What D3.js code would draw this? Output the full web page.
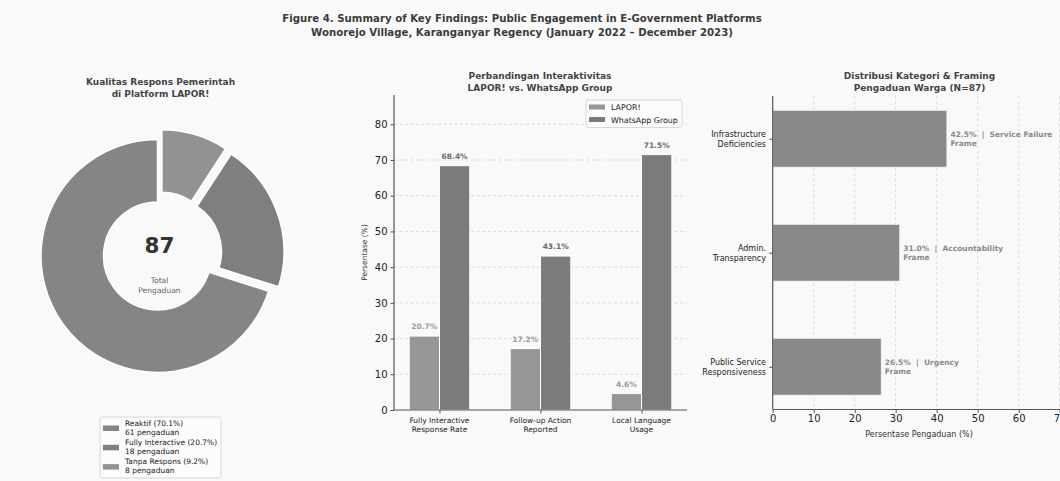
<!DOCTYPE html>
<html>
<head>
<meta charset="utf-8">
<script src="https://cdn.jsdelivr.net/npm/d3@7/dist/d3.min.js"></script>
<style>
  body { margin: 0; background: #f9f9f9; }
  svg { display: block; font-family: "DejaVu Sans", sans-serif; }
  .pre { white-space: pre; }
</style>
</head>
<body>
<div id="main"></div>
<script>
// --- data ---
var pieLabels = ['Reaktif', 'Fully Interactive', 'Tanpa Respons'];
var pieCounts = [61, 18, 8];
var piePct = [70.1, 20.7, 9.2];
var pieTotal = 87;

var barCats = [['Fully Interactive', 'Response Rate'], ['Follow-up Action', 'Reported'], ['Local Language', 'Usage']];
var barSeries = ['LAPOR!', 'WhatsApp Group'];
var laporVals = [20.7, 17.2, 4.6];
var waVals = [68.4, 43.1, 71.5];
var barTicks = [0, 10, 20, 30, 40, 50, 60, 70, 80];

var frameCats = [['Infrastructure', 'Deficiencies'], ['Admin.', 'Transparency'], ['Public Service', 'Responsiveness']];
var frameVals = [42.5, 31.0, 26.5];
var frameNames = ['Service Failure', 'Accountability', 'Urgency'];
var frameTicks = [0, 10, 20, 30, 40, 50, 60, 70];

var width = 1060, height = 481;
var bg = '#f9f9f9';

var svg = d3.select('#main').append('svg')
    .attr('width', width)
    .attr('height', height);

svg.append('rect').attr('width', width).attr('height', height).attr('fill', bg);

// figure title
svg.append('text')
    .attr('x', 522).attr('y', 22)
    .attr('text-anchor', 'middle')
    .attr('font-size', 10.2).attr('font-weight', 'bold').attr('fill', '#3c3c3c')
  .selectAll('tspan')
  .data(['Figure 4. Summary of Key Findings: Public Engagement in E-Government Platforms',
         'Wonorejo Village, Karanganyar Regency (January 2022 \u2013 December 2023)'])
  .enter().append('tspan')
    .attr('x', 522)
    .attr('dy', function(d, i) { return i ? 14 : 0; })
    .text(function(d) { return d; });

function subtitle(x, y, lines) {
  svg.append('text')
      .attr('text-anchor', 'middle')
      .attr('font-size', 9).attr('font-weight', 'bold').attr('fill', '#444')
    .selectAll('tspan').data(lines).enter().append('tspan')
      .attr('x', x).attr('y', function(d, i) { return y + i * 11.5; })
      .text(function(d) { return d; });
}

// ---------- donut ----------
subtitle(160.5, 85, ['Kualitas Respons Pemerintah', 'di Platform LAPOR!']);

var pieColors = ['#858585', '#7f7f7f', '#929292'];
var explode = [2.5, 8.5, 8.5];
var cx = 159.5, cy = 254.5, R = 116.5, r0 = 54;

var pie = d3.pie().sort(null).startAngle(0).endAngle(-2 * Math.PI);
var arc = d3.arc().innerRadius(r0).outerRadius(R);

var donut = svg.append('g').attr('transform', 'translate(' + cx + ',' + cy + ')');
donut.selectAll('.slice')
  .data(pie(pieCounts))
  .enter().append('path')
    .attr('class', 'slice')
    .attr('d', arc)
    .attr('transform', function(d, i) {
      var a = (d.startAngle + d.endAngle) / 2;
      return 'translate(' + (Math.sin(a) * explode[i]) + ',' + (-Math.cos(a) * explode[i]) + ')';
    })
    .attr('fill', function(d, i) { return pieColors[i]; })
    .attr('stroke', '#ffffff').attr('stroke-width', 1.5);

donut.append('text')
    .attr('y', -2).attr('text-anchor', 'middle')
    .attr('font-size', 21.5).attr('font-weight', 'bold').attr('fill', '#333')
    .text(pieTotal);
donut.append('text')
    .attr('text-anchor', 'middle').attr('font-size', 7.6).attr('fill', '#666')
  .selectAll('tspan').data(['Total', 'Pengaduan']).enter().append('tspan')
    .attr('x', 0).attr('y', function(d, i) { return 28 + i * 10; })
    .text(function(d) { return d; });

// donut legend
var lg = svg.append('g').attr('transform', 'translate(100,417)');
lg.append('rect').attr('width', 121).attr('height', 61).attr('rx', 2)
    .attr('fill', '#fbfbfb').attr('stroke', '#d0d0d0').attr('stroke-width', 0.8);
var lgItem = lg.selectAll('.item').data(pieLabels).enter().append('g')
    .attr('class', 'item')
    .attr('transform', function(d, i) { return 'translate(0,' + (11 + i * 19.3) + ')'; });
lgItem.append('rect').attr('x', 3).attr('y', -2.5).attr('width', 16).attr('height', 5.5)
    .attr('fill', function(d, i) { return pieColors[i]; });
lgItem.append('text')
    .attr('font-size', 7.5).attr('fill', '#222')
  .selectAll('tspan')
  .data(function(d, i) { return [d + ' (' + piePct[i] + '%)', pieCounts[i] + ' pengaduan']; })
  .enter().append('tspan')
    .attr('x', 25).attr('y', function(d, i) { return -2.5 + i * 9; })
    .text(function(d) { return d; });

// ---------- grouped bars ----------
subtitle(540, 79, ['Perbandingan Interaktivitas', 'LAPOR! vs. WhatsApp Group']);

var bx = d3.scaleLinear().domain([-0.45, 2.45]).range([394, 687]);
var by = d3.scaleLinear().domain([0, 88.2]).range([410, 95]);
var bw = 0.3;
var barColors = ['#969696', '#7b7b7b'];
var labelColors = ['#9a9a9a', '#6a6a6a'];

var g2 = svg.append('g');
g2.selectAll('.grid').data(barTicks.slice(1)).enter().append('line')
    .attr('x1', 394).attr('x2', 687)
    .attr('y1', function(d) { return by(d); }).attr('y2', function(d) { return by(d); })
    .attr('stroke', '#cfcfcf').attr('stroke-width', 0.7).attr('stroke-dasharray', '3,2.5');

var seriesVals = [laporVals, waVals];
seriesVals.forEach(function(vals, s) {
  var off = s === 0 ? -bw / 2 : bw / 2;
  g2.selectAll('.bar' + s).data(vals).enter().append('rect')
      .attr('x', function(d, i) { return bx(i + off - bw / 2); })
      .attr('width', bx(bw) - bx(0))
      .attr('y', function(d) { return by(d); })
      .attr('height', function(d) { return by(0) - by(d); })
      .attr('fill', barColors[s])
      .attr('stroke', '#ffffff').attr('stroke-width', 1);
  g2.selectAll('.lbl' + s).data(vals).enter().append('text')
      .attr('x', function(d, i) { return bx(i + off); })
      .attr('y', function(d) { return by(d) - 7; })
      .attr('text-anchor', 'middle')
      .attr('font-size', 7.5).attr('font-weight', 'bold').attr('fill', labelColors[s])
      .text(function(d) { return d.toFixed(1) + '%'; });
});

g2.append('g')
    .attr('transform', 'translate(394,0)')
    .call(d3.axisLeft(by).tickValues(barTicks).tickSize(3.5).tickPadding(3))
    .call(function(a) {
      a.select('.domain').attr('stroke', '#555').attr('stroke-width', 1.2).attr('d', 'M0,95V410');
      a.selectAll('.tick line').attr('stroke', '#555');
      a.selectAll('text').attr('font-size', 10).attr('fill', '#222').attr('font-family', 'DejaVu Sans');
    });
g2.append('g')
    .attr('transform', 'translate(0,410)')
    .call(d3.axisBottom(bx).tickValues([0, 1, 2]).tickSize(3.5).tickFormat(''))
    .call(function(a) {
      a.select('.domain').attr('stroke', '#555').attr('stroke-width', 1.2).attr('d', 'M394,0H687');
      a.selectAll('.tick line').attr('stroke', '#555');
    });
g2.selectAll('.xlab').data(barCats).enter().append('text')
    .attr('text-anchor', 'middle').attr('font-size', 7.5).attr('fill', '#222')
  .each(function(d, i) {
    d3.select(this).selectAll('tspan').data(d).enter().append('tspan')
      .attr('x', bx(i)).attr('y', function(t, j) { return 423 + j * 9; })
      .text(function(t) { return t; });
  });
g2.append('text')
    .attr('transform', 'translate(367,252.5) rotate(-90)')
    .attr('text-anchor', 'middle').attr('font-size', 7.5).attr('fill', '#333')
    .text('Persentase (%)');

// bar legend
var bl = g2.append('g').attr('transform', 'translate(586,100)');
bl.append('rect').attr('width', 96).attr('height', 27.5).attr('rx', 2)
    .attr('fill', '#fbfbfb').attr('stroke', '#d0d0d0').attr('stroke-width', 0.8);
var blItem = bl.selectAll('.item').data(barSeries).enter().append('g')
    .attr('transform', function(d, i) { return 'translate(0,' + (7 + i * 12.5) + ')'; });
blItem.append('rect').attr('x', 3).attr('y', -2.5).attr('width', 16).attr('height', 5)
    .attr('fill', function(d, i) { return barColors[i]; });
blItem.append('text').attr('x', 25).attr('y', 3)
    .attr('font-size', 7.9).attr('fill', '#222')
    .text(function(d) { return d; });

// ---------- horizontal bars ----------
subtitle(919.5, 79, ['Distribusi Kategori & Framing', 'Pengaduan Warga (N=87)']);

var hx = d3.scaleLinear().domain([0, 71.3]).range([772.7, 1065]);
var hy = d3.scaleLinear().domain([-0.375, 2.375]).range([96, 409.5]);
var bh = 0.5;

var g3 = svg.append('g');
g3.selectAll('.grid').data(frameTicks.slice(1)).enter().append('line')
    .attr('y1', 96).attr('y2', 409.5)
    .attr('x1', function(d) { return hx(d); }).attr('x2', function(d) { return hx(d); })
    .attr('stroke', '#cfcfcf').attr('stroke-width', 0.7).attr('stroke-dasharray', '3,2.5');

g3.selectAll('.hbar').data(frameVals).enter().append('rect')
    .attr('x', hx(0))
    .attr('y', function(d, i) { return hy(i - bh / 2); })
    .attr('width', function(d) { return hx(d) - hx(0); })
    .attr('height', hy(bh) - hy(0))
    .attr('fill', '#888888')
    .attr('stroke', '#f2f2f2').attr('stroke-width', 1);

g3.selectAll('.hlab').data(frameVals).enter().append('text')
    .attr('class', 'pre')
    .attr('font-size', 7.5).attr('font-weight', 'bold').attr('fill', '#8a8a8a')
  .each(function(d, i) {
    d3.select(this).selectAll('tspan')
      .data([d.toFixed(1) + '%  |  ' + frameNames[i], 'Frame']).enter().append('tspan')
      .attr('x', hx(d) + 3.5)
      .attr('y', function(t, j) { return hy(i) - 1.5 + j * 9; })
      .text(function(t) { return t; });
  });

g3.append('g')
    .attr('transform', 'translate(772.7,0)')
    .call(d3.axisLeft(hy).tickValues([0, 1, 2]).tickSize(3.5).tickFormat(''))
    .call(function(a) {
      a.select('.domain').attr('stroke', '#555').attr('stroke-width', 1.2).attr('d', 'M0,96V409.5');
      a.selectAll('.tick line').attr('stroke', '#555');
    });
g3.selectAll('.ylab').data(frameCats).enter().append('text')
    .attr('text-anchor', 'end').attr('font-size', 8).attr('fill', '#222')
  .each(function(d, i) {
    d3.select(this).selectAll('tspan').data(d).enter().append('tspan')
      .attr('x', 766).attr('y', function(t, j) { return hy(i) - 1.5 + j * 10; })
      .text(function(t) { return t; });
  });
g3.append('g')
    .attr('transform', 'translate(0,409.5)')
    .call(d3.axisBottom(hx).tickValues(frameTicks).tickSize(3.5).tickPadding(2))
    .call(function(a) {
      a.select('.domain').attr('stroke', '#555').attr('stroke-width', 1.2).attr('d', 'M772.7,0H1065');
      a.selectAll('.tick line').attr('stroke', '#555');
      a.selectAll('text').attr('font-size', 10).attr('fill', '#222').attr('font-family', 'DejaVu Sans');
    });
g3.append('text')
    .attr('x', 919).attr('y', 437)
    .attr('text-anchor', 'middle').attr('font-size', 8).attr('fill', '#333')
    .text('Persentase Pengaduan (%)');
</script>
</body>
</html>
